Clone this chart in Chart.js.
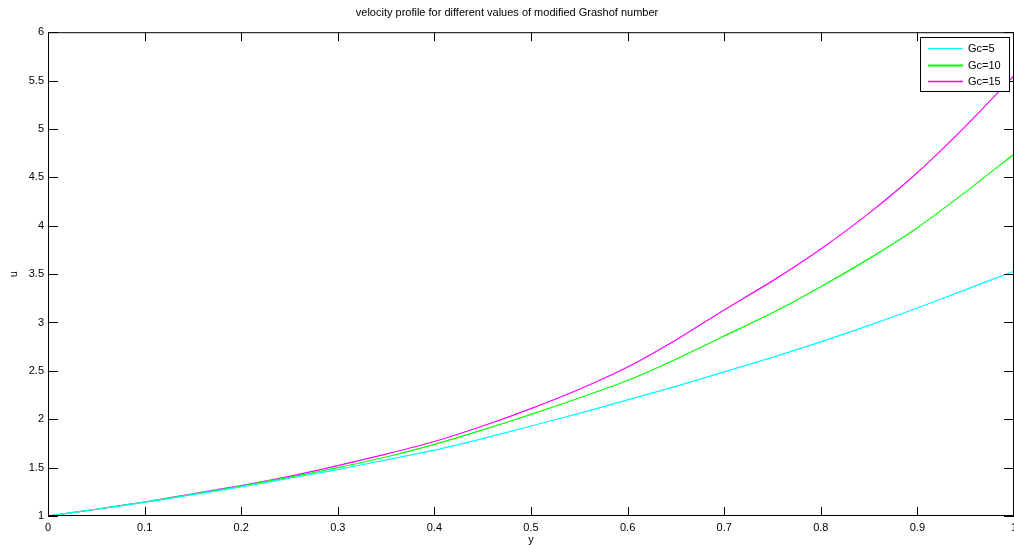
<!DOCTYPE html>
<html>
<head>
<meta charset="utf-8">
<script src="https://cdn.jsdelivr.net/npm/chart.js@4.4.1/dist/chart.umd.min.js"></script>
<style>
  html, body { margin: 0; padding: 0; background: #fff; }
  #myChart { display: block; }
</style>
</head>
<body>
<canvas id="myChart" width="1014" height="545"></canvas>
<script>
// values, one per 0.05 step of y
const yValues = [0, 0.05, 0.1, 0.15, 0.2, 0.25, 0.3, 0.35, 0.4, 0.45, 0.5,
                 0.55, 0.6, 0.65, 0.7, 0.75, 0.8, 0.85, 0.9, 0.95, 1.0];
const gc5  = [1.00, 1.07, 1.14, 1.22, 1.30, 1.39, 1.48, 1.58, 1.68, 1.80, 1.93,
              2.06, 2.20, 2.34, 2.49, 2.64, 2.80, 2.97, 3.15, 3.34, 3.53];
const gc10 = [1.00, 1.07, 1.145, 1.225, 1.31, 1.40, 1.50, 1.61, 1.74, 1.89, 2.05,
              2.22, 2.40, 2.62, 2.86, 3.10, 3.37, 3.66, 3.98, 4.35, 4.74];
const gc15 = [1.00, 1.07, 1.145, 1.23, 1.315, 1.41, 1.52, 1.64, 1.77, 1.93, 2.11,
              2.31, 2.54, 2.82, 3.13, 3.43, 3.76, 4.13, 4.55, 5.03, 5.55];
const seriesLabels = ['Gc=5', 'Gc=10', 'Gc=15'];
const seriesColors = ['#00ffff', '#00ff00', '#ff00ff'];

const FONT = 'Liberation Sans, Arial, sans-serif';

function toPoints(arr) {
    return arr.map((v, i) => ({ x: yValues[i], y: v }));
}

// matlab style box, inward ticks and the legend box
const matlabFrame = {
    id: 'matlabFrame',
    afterDatasetsDraw(chart) {
        const { ctx, chartArea: a, scales: { x, y } } = chart;
        ctx.save();
        ctx.strokeStyle = '#000';
        ctx.lineWidth = 1;
        ctx.strokeRect(a.left + 0.5, a.top + 0.5, a.right - a.left - 1, a.bottom - a.top - 1);

        ctx.beginPath();
        x.ticks.forEach(t => {
            const px = Math.round(x.getPixelForValue(t.value)) + 0.5;
            ctx.moveTo(px, a.bottom); ctx.lineTo(px, a.bottom - 9);
            ctx.moveTo(px, a.top); ctx.lineTo(px, a.top + 9);
        });
        y.ticks.forEach(t => {
            const py = Math.round(y.getPixelForValue(t.value)) + 0.5;
            ctx.moveTo(a.left, py); ctx.lineTo(a.left + 10, py);
            ctx.moveTo(a.right, py); ctx.lineTo(a.right - 10, py);
        });
        ctx.stroke();

        // legend
        const bx = 920.5, by = 37.5, bw = 89, bh = 54;
        ctx.fillStyle = '#fff';
        ctx.fillRect(bx, by, bw, bh);
        ctx.strokeStyle = '#000';
        ctx.strokeRect(bx, by, bw, bh);
        ctx.font = '11px ' + FONT;
        ctx.textBaseline = 'middle';
        ctx.textAlign = 'left';
        const legendWidths = [1, 2, 1.5];
        seriesLabels.forEach((label, i) => {
            const ly = Math.round(48 + i * 16.7) + 0.5;
            ctx.beginPath();
            ctx.strokeStyle = seriesColors[i];
            ctx.lineWidth = legendWidths[i];
            ctx.moveTo(928, ly);
            ctx.lineTo(963, ly);
            ctx.stroke();
            ctx.fillStyle = '#000';
            ctx.fillText(label, 968, ly);
        });
        ctx.restore();
    }
};

const chartElement = document.getElementById('myChart');
const chartInstance = new Chart(chartElement.getContext('2d'), {
    type: 'line',
    data: {
        datasets: [gc5, gc10, gc15].map((s, i) => ({
            label: seriesLabels[i],
            data: toPoints(s),
            borderColor: seriesColors[i],
            backgroundColor: seriesColors[i],
            borderWidth: 1.2,
            pointRadius: 0,
            tension: 0.2,
            fill: false
        }))
    },
    options: {
        responsive: false,
        animation: false,
        layout: { padding: { left: 0, right: 0, top: 0, bottom: 0 } },
        plugins: {
            legend: { display: false },
            tooltip: { enabled: false },
            title: {
                display: true,
                text: 'velocity profile for different values of modified Grashof number',
                color: '#000',
                font: { family: FONT, size: 11, weight: 'normal' },
                padding: { top: 6, bottom: 13 }
            }
        },
        scales: {
            x: {
                type: 'linear',
                min: 0,
                max: 1,
                grid: { display: false, drawTicks: false },
                border: { display: false },
                ticks: {
                    stepSize: 0.1,
                    padding: 5,
                    color: '#000',
                    font: { family: FONT, size: 11 },
                    maxRotation: 0,
                    autoSkip: false,
                    callback: v => String(+v.toFixed(2))
                },
                title: {
                    display: true,
                    text: 'y',
                    color: '#000',
                    font: { family: FONT, size: 11 },
                    padding: { top: 0, bottom: -2 }
                },
                afterFit(s) {
                    s.height = 29;
                    s.paddingLeft = 0;
                    s.paddingRight = 0;
                }
            },
            y: {
                type: 'linear',
                min: 1,
                max: 6,
                grid: { display: false, drawTicks: false },
                border: { display: false },
                ticks: {
                    stepSize: 0.5,
                    padding: 4,
                    color: '#000',
                    font: { family: FONT, size: 11 },
                    autoSkip: false,
                    callback: v => String(+v.toFixed(2))
                },
                title: {
                    display: true,
                    text: 'u',
                    color: '#000',
                    font: { family: FONT, size: 11 },
                    padding: { top: 7, bottom: 0 }
                },
                afterFit(s) {
                    s.width = 48;
                }
            }
        }
    },
    plugins: [matlabFrame]
});
</script>
</body>
</html>
